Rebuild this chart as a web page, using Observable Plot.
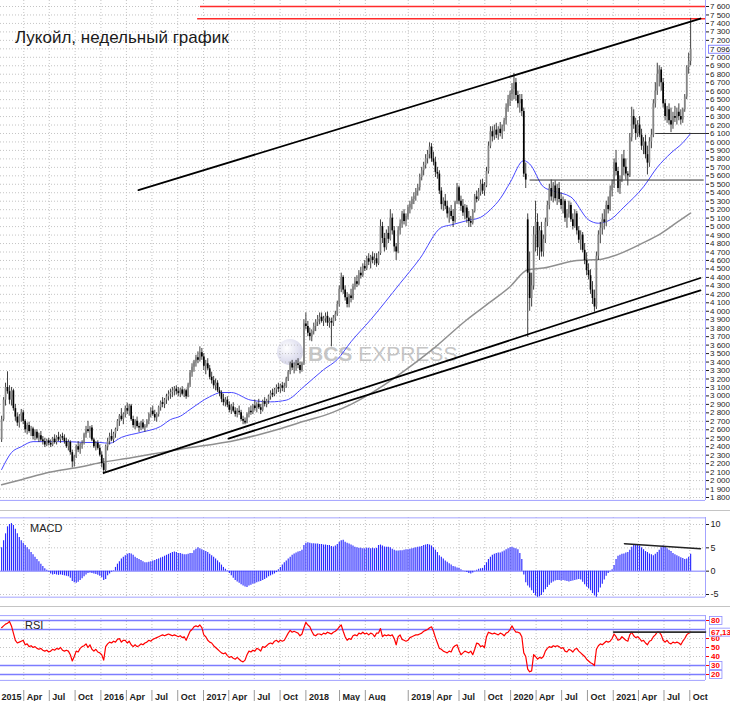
<!DOCTYPE html>
<html><head><meta charset="utf-8">
<script src="https://cdn.jsdelivr.net/npm/d3@7"></script>
<script src="https://cdn.jsdelivr.net/npm/@observablehq/plot@0.6"></script>
<style>
body{margin:0;background:#fff;}
#wrap{position:relative;width:730px;height:701px;overflow:hidden;background:#fff;font-family:"Liberation Sans",Arial,sans-serif;}
.sep{position:absolute;left:0;width:730px;height:1px;background:#c4c4c4;}
#title{position:absolute;left:15px;top:29px;font-size:17px;line-height:17px;color:#1a1a1a;white-space:nowrap;}
.plab{position:absolute;font-size:11px;line-height:11px;color:#222;}
#wm{position:absolute;left:277px;top:339px;height:26px;white-space:nowrap;color:#c6c6c6;font-size:21px;line-height:21px;}
#wm .ball{position:absolute;left:0;top:0;width:26px;height:26px;border-radius:50%;background:radial-gradient(circle at 38% 35%,#ffffff 0%,#e0e0f0 45%,#bcbcd8 100%);opacity:.85;}
#wm .txt{position:absolute;left:31px;top:4px;}
</style></head><body><div id="wrap"></div>
<script>
// ---------- weekly candles (Lukoil, RUB) ----------
const open = [
2480,2720,2950,3100,3050,2950,3060,2850,2750,2680,
2760,2800,2700,2600,2650,2580,2610,2520,2570,2500,
2530,2480,2460,2420,2470,2440,2420,2490,2450,2510,
2480,2520,2500,2460,2400,2450,2330,2220,2280,2400,
2360,2420,2440,2540,2600,2580,2620,2480,2400,2440,
2380,2300,2200,2120,2400,2460,2520,2480,2550,2600,
2700,2760,2720,2780,2850,2820,2880,2720,2650,2700,
2640,2620,2680,2620,2640,2700,2780,2820,2780,2740,
2780,2860,2920,2900,2950,2990,3020,3040,3060,3080,
3050,3030,3070,3020,3060,2990,3130,3270,3340,3400,
3450,3420,3510,3460,3350,3380,3320,3220,3180,3120,
3150,3060,3030,2960,2920,2950,2890,2830,2870,2820,
2780,2820,2800,2720,2700,2680,2780,2820,2800,2880,
2850,2900,2860,2830,2930,2900,2940,2990,3030,3010,
3070,3100,3080,3120,3090,3110,3200,3280,3380,3330,
3350,3380,3360,3300,3380,3850,3820,3740,3700,3760,
3820,3870,3900,3930,3880,3910,3940,3860,3880,3860,
3920,3960,4080,4260,4400,4250,4160,4080,4180,4150,
4290,4350,4320,4450,4420,4530,4500,4620,4580,4640,
4600,4620,4560,4680,5000,4860,4750,4920,4850,5100,
4950,4760,4700,4950,5030,5150,5060,5120,5220,5260,
5320,5360,5420,5460,5580,5660,5720,5800,5850,5940,
5800,5760,5640,5620,5420,5260,5300,5240,5150,5180,
5120,5060,5280,5460,5300,5240,5160,5220,5100,5060,
5040,5180,5350,5320,5400,5500,5420,5480,5650,5950,
6120,6060,6140,6080,6150,6100,6180,6250,6400,6500,
6560,6620,6700,6550,6450,6500,6360,5620,5080,4450,
4150,4300,4900,5050,4750,4950,4700,4850,5050,5250,
5450,5350,5480,5330,5450,5320,5250,5300,5100,5150,
5250,5080,5000,5150,4950,4840,4900,4720,4600,4480,
4420,4250,4150,4050,4650,4900,4980,5080,5050,5250,
5200,5420,5500,5750,5650,5450,5550,5800,5700,5620,
5600,6050,6300,6200,6100,6200,6080,5950,6000,5850,
5750,6000,6080,6450,6600,6800,6850,6700,6450,6300,
6380,6250,6200,6300,6280,6350,6300,6260,6380,6530,
6880,6950];
const high = [
2760,2980,3150,3285,3120,3100,3080,2900,2800,2780,
2840,2830,2720,2680,2690,2640,2630,2600,2600,2560,
2580,2520,2500,2490,2500,2480,2510,2540,2530,2570,
2540,2560,2540,2500,2480,2470,2360,2300,2420,2460,
2440,2470,2560,2640,2700,2640,2650,2500,2460,2470,
2420,2340,2260,2420,2500,2560,2600,2570,2620,2720,
2780,2850,2800,2880,2915,2900,2900,2760,2720,2750,
2680,2700,2720,2660,2720,2800,2860,2880,2830,2800,
2880,2940,2980,2970,3020,3060,3080,3100,3110,3120,
3100,3090,3110,3080,3080,3150,3300,3380,3420,3480,
3520,3580,3560,3500,3420,3440,3360,3280,3230,3200,
3180,3100,3060,3020,2980,2990,2930,2900,2920,2860,
2850,2880,2830,2760,2740,2800,2860,2880,2900,2950,
2920,2960,2900,2950,2980,2960,3010,3060,3080,3090,
3130,3150,3140,3160,3150,3220,3300,3400,3420,3390,
3420,3440,3400,3400,3900,3980,3880,3800,3780,3860,
3900,3950,3980,3980,3940,3980,3990,3920,3920,3950,
4000,4120,4300,4450,4420,4300,4220,4200,4260,4320,
4400,4420,4480,4520,4560,4600,4650,4680,4660,4700,
4680,4680,4700,5080,5050,4920,4960,5000,5200,5150,
5000,4800,5000,5080,5180,5200,5150,5250,5300,5350,
5400,5450,5500,5620,5700,5760,5850,5900,5990,5980,
5880,5820,5700,5660,5460,5340,5380,5300,5220,5250,
5200,5300,5510,5480,5360,5320,5260,5250,5180,5120,
5200,5380,5420,5450,5550,5560,5520,5700,6000,6180,
6180,6200,6220,6180,6230,6200,6280,6450,6550,6600,
6690,6810,6750,6600,6560,6560,6400,5750,5150,4700,
4450,5000,5300,5150,5000,5050,4900,5100,5300,5500,
5550,5520,5540,5500,5520,5400,5350,5320,5200,5300,
5280,5150,5200,5180,5000,4950,4930,4800,4690,4560,
4490,4350,4250,4700,4950,5050,5150,5200,5300,5350,
5480,5550,5800,5900,5700,5600,5850,5900,5800,5650,
6100,6410,6380,6280,6250,6300,6150,6050,6080,5950,
6050,6150,6500,6700,6930,6900,6880,6750,6500,6420,
6450,6400,6350,6420,6400,6450,6380,6400,6560,6900,
7050,7460];
const low = [
2450,2700,2880,3020,2900,2880,2820,2700,2640,2620,
2690,2660,2560,2540,2560,2520,2480,2470,2480,2450,
2460,2420,2390,2400,2410,2390,2400,2430,2420,2460,
2440,2470,2430,2380,2350,2300,2150,2160,2260,2330,
2310,2370,2420,2500,2560,2500,2460,2380,2350,2360,
2280,2150,2070,2100,2350,2420,2460,2440,2500,2580,
2640,2700,2660,2740,2780,2760,2700,2620,2600,2620,
2570,2590,2600,2570,2620,2660,2740,2760,2700,2690,
2750,2820,2860,2850,2900,2940,2960,2980,3000,3010,
2990,2980,3000,2980,2960,2980,3100,3220,3280,3340,
3380,3400,3420,3300,3250,3300,3190,3140,3080,3060,
3040,2990,2920,2880,2870,2860,2800,2780,2800,2750,
2740,2770,2700,2660,2660,2670,2740,2770,2780,2820,
2800,2840,2780,2810,2870,2860,2900,2950,2980,2990,
3020,3040,3030,3050,3040,3090,3170,3250,3300,3260,
3290,3320,3260,3280,3360,3780,3700,3650,3640,3720,
3760,3820,3840,3860,3820,3860,3820,3800,3580,3820,
3880,3940,4050,4220,4200,4120,4040,4040,4100,4130,
4250,4280,4300,4380,4400,4470,4480,4540,4500,4560,
4540,4520,4540,4660,4800,4700,4720,4800,4830,4900,
4700,4600,4680,4900,4980,5020,5000,5080,5150,5200,
5260,5300,5360,5420,5540,5600,5680,5740,5800,5760,
5720,5580,5560,5380,5200,5180,5200,5100,5040,5080,
4990,5040,5260,5260,5180,5120,5080,5040,4990,4990,
5020,5160,5280,5300,5360,5380,5360,5460,5620,5920,
6000,6020,6040,6020,6060,6030,6120,6200,6350,6420,
6480,6500,6480,6400,6340,6300,5580,5450,3690,4000,
4050,4250,4700,4650,4600,4640,4640,4800,5000,5200,
5300,5280,5300,5250,5280,5200,5150,5050,4980,5100,
5050,4960,4980,4900,4800,4720,4690,4550,4420,4370,
4200,4080,3990,4020,4600,4800,4900,4960,5000,5150,
5180,5350,5450,5600,5400,5380,5520,5600,5550,5480,
5580,6000,6150,6020,6050,6050,5900,5850,5800,5610,
5700,5920,6050,6400,6550,6650,6600,6400,6250,6220,
6200,6110,6150,6230,6200,6250,6200,6220,6350,6500,
6800,6900];
const close = [
2720,2950,3100,3050,2950,3060,2850,2750,2680,2760,
2800,2700,2600,2650,2580,2610,2520,2570,2500,2530,
2480,2460,2420,2470,2440,2420,2490,2450,2510,2480,
2520,2500,2460,2400,2450,2330,2220,2280,2400,2360,
2420,2440,2540,2600,2580,2620,2480,2400,2440,2380,
2300,2200,2120,2400,2460,2520,2480,2550,2600,2700,
2760,2720,2780,2850,2820,2880,2720,2650,2700,2640,
2620,2680,2620,2640,2700,2780,2820,2780,2740,2780,
2860,2920,2900,2950,2990,3020,3040,3060,3080,3050,
3030,3070,3020,3060,2990,3130,3270,3340,3400,3450,
3420,3510,3460,3350,3380,3320,3220,3180,3120,3150,
3060,3030,2960,2920,2950,2890,2830,2870,2820,2780,
2820,2800,2720,2700,2680,2780,2820,2800,2880,2850,
2900,2860,2830,2930,2900,2940,2990,3030,3010,3070,
3100,3080,3120,3090,3110,3200,3280,3380,3330,3350,
3380,3360,3300,3380,3850,3820,3740,3700,3760,3820,
3870,3900,3930,3880,3910,3940,3860,3880,3860,3920,
3960,4080,4260,4400,4250,4160,4080,4180,4150,4290,
4350,4320,4450,4420,4530,4500,4620,4580,4640,4600,
4620,4560,4680,5000,4860,4750,4920,4850,5100,4950,
4760,4700,4950,5030,5150,5060,5120,5220,5260,5320,
5360,5420,5460,5580,5660,5720,5800,5850,5940,5800,
5760,5640,5620,5420,5260,5300,5240,5150,5180,5120,
5060,5280,5460,5300,5240,5160,5220,5100,5060,5040,
5180,5350,5320,5400,5500,5420,5480,5650,5950,6120,
6060,6140,6080,6150,6100,6180,6250,6400,6500,6560,
6620,6700,6550,6450,6500,6360,5620,5550,4450,4150,
4300,4900,5050,4750,4950,4700,4850,5050,5250,5450,
5350,5480,5330,5450,5320,5250,5300,5100,5150,5250,
5080,5000,5150,4950,4840,4900,4720,4600,4480,4420,
4250,4150,4050,4650,4900,4980,5080,5050,5250,5200,
5420,5500,5750,5650,5450,5550,5800,5700,5620,5600,
6050,6300,6200,6100,6200,6080,5950,6000,5850,5750,
6000,6080,6450,6600,6800,6850,6700,6450,6300,6380,
6250,6200,6300,6280,6350,6300,6260,6380,6530,6880,
6950,7096];
const lastPriceLabel = "7 096,50";

// ---------- moving averages (by week number) ----------
const maBlueWeek = [0,5,10,16,25,34,42,50,55,61,71,81,86,91,96,106,112,117,127,137,145,154,164,171,178,188,203,213,224,229,237,244,249,254,259,266,269,276,281,290,299,304,310,317,327,334,341,347,351];
const maBlue = [2130,2330,2400,2460,2460,2460,2450,2450,2440,2510,2570,2640,2720,2760,2840,2990,3040,3040,2950,2930,2950,3110,3310,3430,3640,3900,4330,4620,4990,5020,5070,5110,5200,5330,5520,5780,5740,5470,5420,5350,5080,5040,5080,5230,5470,5700,5870,5990,6100];
const maGrayWeek = [0,10,25,40,50,66,76,91,120,137,154,168,178,193,203,219,237,249,259,268,276,293,304,310,327,336,344,351];
const maGray = [1950,2010,2100,2160,2210,2270,2310,2370,2480,2580,2700,2800,2900,3100,3260,3540,3900,4110,4290,4490,4510,4600,4610,4640,4810,4920,5050,5160];

// ---------- MACD histogram ----------
const macd = [
5.0,6.5,8.0,9.5,10.0,10.2,9.8,9.0,8.0,7.2,
6.5,6.0,5.5,5.0,4.6,4.0,3.5,3.0,2.5,2.0,
1.5,1.0,0.5,0.2,-0.2,-0.6,-0.8,-0.7,-0.8,-0.9,
-0.8,-0.9,-1.0,-1.1,-1.2,-1.5,-2.2,-2.5,-2.6,-2.4,
-2.0,-1.6,-1.2,-0.8,-0.5,-0.4,-0.5,-0.6,-0.7,-0.9,
-1.1,-1.4,-2.0,-1.8,-1.0,-0.6,-0.2,0.1,0.8,1.5,
2.0,2.6,3.0,3.3,3.6,3.8,3.7,3.4,3.0,2.7,
2.5,2.3,2.0,1.8,1.8,1.9,2.0,2.2,2.3,2.5,
2.6,2.8,3.0,3.2,3.4,3.6,3.8,4.0,4.1,4.0,
3.8,3.8,3.6,3.5,3.5,3.6,3.8,3.8,4.4,4.7,
5.0,4.8,4.6,4.4,4.2,4.0,3.6,3.3,3.0,2.6,
2.2,1.8,1.3,0.8,0.4,0.1,-0.5,-1.0,-1.5,-2.0,
-2.3,-2.6,-2.9,-3.2,-3.4,-3.5,-3.2,-3.0,-2.8,-2.7,
-2.5,-2.3,-2.2,-2.0,-1.8,-1.5,-1.2,-1.0,-0.8,-0.6,
-0.3,0.3,0.8,1.3,1.8,2.2,2.6,3.0,3.4,3.7,
3.9,4.1,4.2,4.5,5.5,6.0,6.1,6.0,5.9,5.9,
5.8,5.8,5.7,5.7,5.6,5.6,5.5,5.5,5.3,5.2,
5.4,5.7,6.2,6.5,6.6,6.2,6.0,5.8,5.6,5.4,
5.1,5.0,4.9,4.9,4.8,4.8,4.9,4.9,4.8,4.9,
4.8,4.9,5.5,5.6,5.4,5.2,5.1,5.1,5.0,4.7,
4.5,4.3,4.3,4.4,4.4,4.5,4.6,4.6,4.7,4.8,
4.9,5.0,5.1,5.2,5.3,5.5,5.6,5.7,5.6,5.4,
5.0,4.5,4.0,3.3,3.0,2.6,2.2,1.9,1.6,1.3,
1.0,0.9,0.7,0.6,0.3,0.1,-0.1,-0.3,-0.5,-0.6,
-0.4,-0.1,0.2,0.4,0.5,0.6,1.2,1.8,2.5,3.0,
3.4,3.6,3.8,3.9,3.9,4.1,4.3,4.6,4.8,5.0,
5.1,4.9,4.8,4.6,3.8,2.5,-0.8,-2.5,-3.2,-3.6,
-4.2,-4.8,-5.3,-5.6,-5.5,-5.2,-4.6,-4.0,-3.5,-3.0,
-2.6,-2.3,-2.1,-2.0,-2.0,-2.1,-2.0,-2.1,-2.2,-2.3,
-2.2,-2.1,-2.0,-1.9,-1.8,-1.9,-2.4,-2.9,-3.4,-3.8,
-4.2,-4.8,-5.3,-5.6,-4.6,-3.6,-2.8,-1.9,-1.1,-0.5,
-0.1,0.3,1.2,2.5,3.2,3.4,3.6,3.7,3.9,4.0,
4.5,5.1,5.5,5.6,5.7,5.4,5.0,4.6,4.2,4.0,
3.7,3.5,3.3,3.6,4.0,4.5,5.0,5.4,5.1,4.8,
4.5,4.2,3.8,3.5,3.3,3.1,2.9,2.7,2.5,2.6,
3.0,3.6];

// ---------- RSI ----------
const rsi = [
72,74,76,77,79,74,66,58,55,56,
57,58,53,54,51,52,50,51,49,48,
49,47,46,47,45,46,48,47,49,48,
50,47,46,47,46,42,35,40,46,45,
49,51,52,54,50,53,48,46,48,45,
44,42,36,51,54,56,55,57,56,59,
60,56,58,58,55,57,53,51,53,51,
52,54,53,55,56,58,57,59,60,61,
62,63,64,63,64,65,64,63,64,63,
62,63,61,62,58,63,68,70,73,74,
73,75,72,64,62,58,56,55,52,50,
48,46,44,43,44,41,39,40,38,37,
39,37,35,34,36,42,46,45,47,46,
49,48,46,51,50,52,54,55,54,57,
58,56,58,57,58,62,66,69,67,68,
67,66,63,65,72,78,75,73,68,64,
63,65,65,64,66,65,67,66,65,67,
68,70,73,75,68,62,58,60,59,63,
64,63,66,65,67,65,66,64,66,65,
62,66,66,71,62,64,63,64,63,64,
60,53,62,64,59,58,57,58,61,62,
63,64,64,65,66,68,69,70,72,73,
68,61,55,49,48,46,45,44,46,45,
50,52,53,47,42,44,46,45,44,46,
42,48,55,54,51,52,50,62,67,66,
65,66,65,64,66,65,63,66,67,70,
74,70,67,67,66,62,44,40,26,23,
24,42,40,37,39,38,40,46,49,51,
50,52,51,52,51,49,50,46,45,48,
47,45,48,49,46,44,42,40,37,35,
33,32,30,48,52,54,53,55,57,56,
57,60,65,62,58,59,62,60,58,57,
64,67,63,61,62,60,57,58,55,53,
57,58,62,64,67,67,64,58,56,58,
55,54,56,55,56,55,53,57,60,64,
66,67.1];
const rsiLastLabel = "67,135";

// ---------- drawn lines (from the picture) ----------
const upperChannel = [["2016-05-14",5431],["2021-11-08",7458]];
const lowerLineA   = [["2016-01-11",2090],["2021-11-08",4393]];
const lowerLineB   = [["2017-03-31",2495],["2021-11-08",4246]];
const level5550    = [["2020-03-10",5550],["2021-11-18",5550]];
const level6100    = [["2021-06-01",6100],["2021-11-26",6100]];
const redLevels    = [7600, 7455];
const redStarts    = ["2016-12-21","2016-12-11"];
const macdTrend    = [["2021-02-10",5.9],["2021-11-08",4.8]];
const rsiTrend     = [["2021-01-02",67.1],["2021-11-26",67.1]];

// ---------- axes ----------
const xTickDates = ["2015-01-01","2015-04-01","2015-07-01","2015-10-01","2016-01-01","2016-04-01","2016-07-01","2016-10-01","2017-01-01","2017-04-01","2017-07-01","2017-10-01","2018-01-01","2018-05-01","2018-08-01","2019-01-01","2019-04-01","2019-07-01","2019-10-01","2020-01-01","2020-04-01","2020-07-01","2020-10-01","2021-01-01","2021-04-01","2021-07-01","2021-10-01"];
const xTickLabels = ["2015","Apr","Jul","Oct","2016","Apr","Jul","Oct","2017","Apr","Jul","Oct","2018","May","Aug","2019","Apr","Jul","Oct","2020","Apr","Jul","Oct","2021","Apr","Jul","Oct"];
const priceTicks = d3.range(1800, 7601, 100);
const priceHidden = [7100];            // covered by the last-price box in the picture
const macdTicks = [10, 5, 0, -5];
const macdDotted = [10, 5, -5];
const rsiTicks = [80, 60, 50, 40, 30, 20];   // "70" sits under the 67,135 box
const rsiSolid = [80, 70, 30, 20];
const rsiDotted = [60, 50, 40];
const rsiBoxed = ["80", "30", "20", rsiLastLabel];

// ---------- build tables ----------
const xDomain = [new Date("2015-01-08"), new Date("2021-11-26")];
const weekStart = new Date("2015-01-12");
const weeks = close.map((_, i) => d3.utcDay.offset(weekStart, 7 * i));
const candles = weeks.map((date, i) => ({date, o: open[i], h: high[i], l: low[i], c: close[i]}));
const upC = candles.filter(d => d.c >= d.o), dnC = candles.filter(d => d.c < d.o);
const macdRows = weeks.map((date, i) => ({date, v: macd[i]}));
const rsiRows = weeks.map((date, i) => ({date, v: rsi[i]}));
const blueRows = maBlueWeek.map((w, i) => ({date: weeks[w], v: maBlue[i]}));
const grayRows = maGrayWeek.map((w, i) => ({date: weeks[w], v: maGray[i]}));
const xTicks = xTickDates.map((d, i) => ({date: new Date(d), label: xTickLabels[i]}));
const pts = arr => arr.map(([d, v]) => ({date: new Date(d), v}));
const reds = redLevels.map((v, i) => ({date: new Date(redStarts[i]), v}));

const fmtPrice = d => d3.format(",")(d).replace(/,/g, " ");
const grid = {stroke: "#b5b5b5", strokeDasharray: "1,2", strokeWidth: 0.8};
const border = "#a3a3ff";
const font = "Liberation Sans, Arial, sans-serif";
const common = {width: 730, marginLeft: 0, marginRight: 25, marginTop: 0, marginBottom: 0,
  x: {type: "utc", domain: xDomain, axis: null}};
const end = xDomain[1];

const wrap = document.getElementById("wrap");
function place(node, top) {
  node.style.position = "absolute"; node.style.left = "0px"; node.style.top = top + "px";
  wrap.appendChild(node); return node;
}
function boxify(svg, labels, stroke) {
  d3.select(svg).selectAll("text").filter(function () { return labels.includes(this.textContent); })
    .each(function () {
      const b = this.getBBox();
      const r = document.createElementNS("http://www.w3.org/2000/svg", "rect");
      if (this.getAttribute("transform")) r.setAttribute("transform", this.getAttribute("transform"));
      r.setAttribute("x", b.x - 1.5); r.setAttribute("y", b.y + 0.5);
      r.setAttribute("width", b.width + 3); r.setAttribute("height", b.height - 1);
      r.setAttribute("fill", "#fff"); r.setAttribute("stroke", stroke); r.setAttribute("stroke-width", "0.8");
      this.parentNode.insertBefore(r, this);
    });
}

// watermark (behind the chart)
const wm = document.createElement("div"); wm.id = "wm";
wm.innerHTML = '<div class="ball"></div><div class="txt"><b>BCS</b> EXPRESS</div>';
wrap.appendChild(wm);

// ---------- price panel ----------
const main = Plot.plot({
  ...common, height: 500,
  y: {domain: [1764.6, 7670.9], axis: "right", ticks: priceTicks.filter(t => !priceHidden.includes(t)), tickFormat: fmtPrice, tickSize: 3, tickPadding: 1.5, label: null},
  style: {fontFamily: font, fontSize: "8px", color: "#1c1c1c", background: "transparent", overflow: "visible"},
  marks: [
    Plot.ruleY(priceTicks, grid),
    Plot.ruleX(xTicks, {x: "date", ...grid}),
    Plot.ruleY([1765.5], {stroke: border}),
    Plot.ruleX([end], {stroke: border}),
    Plot.ruleY(reds, {y: "v", x1: "date", x2: () => end, stroke: "#ff2b2b", strokeWidth: 1.4}),
    Plot.line(grayRows, {x: "date", y: "v", stroke: "#8f8f8f", strokeWidth: 1.5, curve: "monotone-x"}),
    Plot.line(blueRows, {x: "date", y: "v", stroke: "#4848ff", strokeWidth: 1, curve: "monotone-x"}),
    Plot.ruleX(candles, {x: "date", y1: "l", y2: "h", stroke: "#2a2a2a", strokeWidth: 0.9}),
    Plot.ruleX(upC, {x: "date", y1: "o", y2: "c", stroke: "#858585", strokeWidth: 1.7}),
    Plot.ruleX(dnC, {x: "date", y1: "o", y2: "c", stroke: "#000", strokeWidth: 1.7}),
    Plot.line(pts(level5550), {x: "date", y: "v", stroke: "#333", strokeWidth: 1}),
    Plot.line(pts(level6100), {x: "date", y: "v", stroke: "#333", strokeWidth: 1}),
    Plot.line(pts(upperChannel), {x: "date", y: "v", stroke: "#000", strokeWidth: 1.8}),
    Plot.line(pts(lowerLineA), {x: "date", y: "v", stroke: "#000", strokeWidth: 1.8}),
    Plot.line(pts(lowerLineB), {x: "date", y: "v", stroke: "#000", strokeWidth: 1.8}),
    Plot.text([{date: end, v: close[close.length - 1], t: lastPriceLabel}], {x: "date", y: "v", text: "t", dx: 4.5, textAnchor: "start", fill: "#111"})
  ]
});
place(main, 0);
boxify(main, [lastPriceLabel], "#6b6bff");

// ---------- MACD panel ----------
const macdPlot = Plot.plot({
  ...common, height: 80,
  y: {domain: [-5.643, 11.5], axis: "right", ticks: macdTicks, tickFormat: d => String(d), tickSize: 3, tickPadding: 2, label: null},
  style: {fontFamily: font, fontSize: "9px", color: "#1c1c1c", background: "transparent", overflow: "visible"},
  marks: [
    Plot.ruleY(macdDotted, grid),
    Plot.ruleX(xTicks, {x: "date", ...grid}),
    Plot.ruleY([0], {stroke: "#7878ff", strokeWidth: 1}),
    Plot.ruleY([11.42, -5.57], {stroke: border}),
    Plot.ruleX([end], {stroke: border}),
    Plot.ruleX(macdRows, {x: "date", y1: 0, y2: "v", stroke: "#2a2aff", strokeWidth: 1.15}),
    Plot.line(pts(macdTrend), {x: "date", y: "v", stroke: "#222", strokeWidth: 1.5})
  ]
});
place(macdPlot, 517);

// ---------- RSI panel ----------
const rsiPlot = Plot.plot({
  ...common, height: 65,
  y: {domain: [13.33, 85.56], axis: "right", ticks: rsiTicks, tickFormat: d => String(d), tickSize: 3, tickPadding: 2.5, label: null},
  style: {fontFamily: font, fontSize: "8px", fontWeight: "bold", color: "#ff0000", background: "transparent", overflow: "visible"},
  marks: [
    Plot.ruleY(rsiDotted, grid),
    Plot.ruleX(xTicks, {x: "date", ...grid}),
    Plot.ruleY(rsiSolid, {stroke: "#7c7cff", strokeWidth: 1.3}),
    Plot.ruleY([85.45, 13.45], {stroke: border}),
    Plot.ruleX([end], {stroke: border}),
    Plot.line(rsiRows, {x: "date", y: "v", stroke: "#ff0000", strokeWidth: 1.2}),
    Plot.line(pts(rsiTrend), {x: "date", y: "v", stroke: "#2e2e2e", strokeWidth: 1.6}),
    Plot.text([{date: end, v: 67.135, t: rsiLastLabel}], {x: "date", y: "v", text: "t", dx: 5.5, textAnchor: "start", fill: "#ff0000", fontWeight: "bold"})
  ]
});
place(rsiPlot, 615);
boxify(rsiPlot, rsiBoxed, "#8c8cff");

// ---------- time axis ----------
const axisPlot = Plot.plot({
  ...common, height: 22, marginTop: 11,
  style: {fontFamily: font, fontSize: "9px", color: "#1c1c1c", background: "transparent", overflow: "visible"},
  marks: [
    Plot.tickX(xTicks, {x: "date", stroke: "#9a9a9a"}),
    Plot.text(xTicks, {x: "date", text: "label", frameAnchor: "bottom", textAnchor: "start", dx: 3, dy: -2, fontWeight: "bold", fill: "#1c1c1c"})
  ]
});
place(axisPlot, 679);

// separators, titles
[510, 606].forEach(t => { const s = document.createElement("div"); s.className = "sep"; s.style.top = t + "px"; wrap.appendChild(s); });
const title = document.createElement("div"); title.id = "title"; title.textContent = "Лукойл, недельный график"; wrap.appendChild(title);
const l1 = document.createElement("div"); l1.className = "plab"; l1.style.left = "30px"; l1.style.top = "523px"; l1.textContent = "MACD"; wrap.appendChild(l1);
const l2 = document.createElement("div"); l2.className = "plab"; l2.style.left = "25px"; l2.style.top = "620px"; l2.textContent = "RSI"; wrap.appendChild(l2);
</script></body></html>
